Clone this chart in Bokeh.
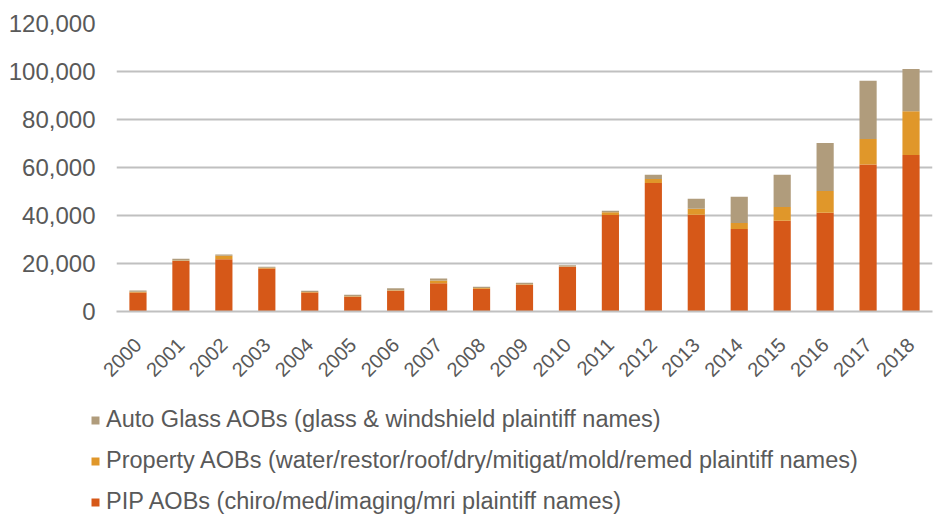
import math
from bokeh.plotting import figure
from bokeh.models import (ColumnDataSource, Range1d, FactorRange, NumeralTickFormatter,
                          Legend, LegendItem, FixedTicker)
from bokeh.embed import file_html
from bokeh.resources import INLINE

years = [str(y) for y in range(2000, 2019)]
pip = [7900, 21000, 21800, 17900, 7900, 6100, 8600, 11800, 9500, 11100, 18600, 40200,
       53500, 40300, 34400, 37800, 41100, 61200, 65200]
prop = [300, 300, 1400, 300, 200, 300, 300, 1100, 300, 300, 200, 1200,
        1700, 2500, 2500, 5700, 9100, 10700, 18200]
glass = [500, 700, 500, 400, 500, 600, 800, 900, 500, 600, 500, 600,
         1800, 4200, 10900, 13500, 20000, 24200, 17600]
series = ["pip", "prop", "glass"]
labels = {
    "glass": "Auto Glass AOBs (glass & windshield plaintiff names)",
    "prop": "Property AOBs (water/restor/roof/dry/mitigat/mold/remed plaintiff names)",
    "pip": "PIP AOBs (chiro/med/imaging/mri plaintiff names)",
}
colors = {"pip": "#D65818", "prop": "#E0972A", "glass": "#B09C7C"}
y_ticks = [0, 20000, 40000, 60000, 80000, 100000, 120000]

src = ColumnDataSource(dict(year=years, pip=pip, prop=prop, glass=glass))

p = figure(x_range=FactorRange(*years, range_padding=0), y_range=Range1d(0, 120000),
           width=935, height=395, output_backend="svg", toolbar_location=None,
           min_border_left=116, min_border_right=3, min_border_top=23, min_border_bottom=84)

rs = p.vbar_stack(series, x="year", width=0.4, source=src,
                  color=[colors[s] for s in series], line_color=None)

p.outline_line_color = None
p.xgrid.grid_line_color = None
p.ygrid.grid_line_color = "#C0C0C0"
p.ygrid.grid_line_width = 2

p.yaxis.ticker = FixedTicker(ticks=y_ticks)
p.yaxis.formatter = NumeralTickFormatter(format="0,0")
p.yaxis.axis_line_color = None
p.yaxis.major_tick_line_color = None
p.yaxis.minor_tick_line_color = None
p.yaxis.major_label_text_font = "Liberation Sans"
p.yaxis.major_label_text_font_size = "24px"
p.yaxis.major_label_text_color = "#595959"
p.yaxis.major_label_standoff = 15

p.xaxis.axis_line_color = "#C0C0C0"
p.xaxis.axis_line_width = 2
p.xaxis.major_tick_line_color = None
p.xaxis.minor_tick_line_color = None
p.xaxis.major_label_orientation = math.pi / 4
p.xaxis.major_label_text_font = "Liberation Sans"
p.xaxis.major_label_text_font_size = "20px"
p.xaxis.major_label_text_color = "#595959"
p.xaxis.major_label_standoff = 24

# Legend panel: a second root below the chart; its (hidden) bar renderers share the
# chart's data so the legend swatches take the series colours.
p2 = figure(width=935, height=121, output_backend="svg", toolbar_location=None,
            x_range=FactorRange(*years, range_padding=0), y_range=Range1d(0, 120000),
            min_border_left=0, min_border_right=0, min_border_top=0, min_border_bottom=0,
            x_axis_type=None, y_axis_type=None)
p2.outline_line_color = None
p2.grid.visible = False
rs2 = p2.vbar_stack(series, x="year", width=0.4, source=src,
                    color=[colors[s] for s in series], line_color=None)
for r in rs2:
    r.visible = False
rmap = dict(zip(series, rs2))
items = [LegendItem(label=labels[s], renderers=[rmap[s]]) for s in ["glass", "prop", "pip"]]
legend = Legend(items=items, location=(90, 1), orientation="vertical",
                padding=0, margin=0, spacing=14, label_height=22, glyph_height=10, glyph_width=10,
                label_standoff=6, label_text_font="Liberation Sans", label_text_font_size="23.5px",
                label_text_color="#595959", background_fill_alpha=0, border_line_color=None)
p2.add_layout(legend, "center")

open("out.html", "w").write(file_html((p, p2), INLINE))
